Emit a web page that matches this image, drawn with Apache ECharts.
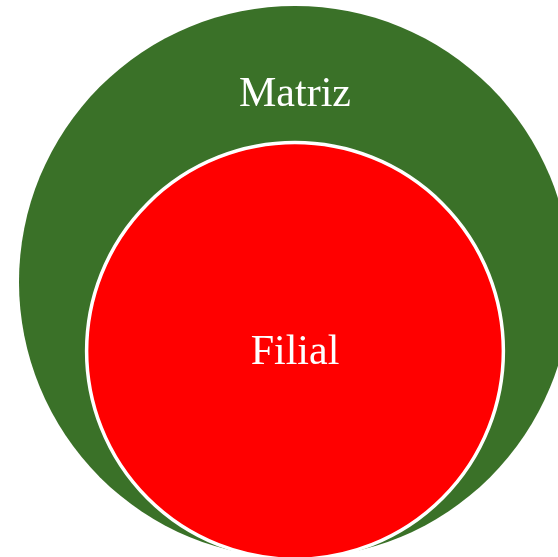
<!DOCTYPE html>
<html>
<head>
<meta charset="utf-8">
<script src="https://cdn.jsdelivr.net/npm/echarts@6/dist/echarts.min.js"></script>
<style>html,body{margin:0;padding:0;background:#fff;}#c{width:558px;height:557px;}</style>
</head>
<body>
<div id="c"></div>
<script>
// Euler diagram: sets, centres and radii in relative units (Matriz radius = 1)
var setNames = ['Matriz', 'Filial'];
var centerX = [0, 0];
var centerY = [0, -0.25];
var radii = [1, 0.755];
var labelX = [0, 0];
var labelY = [0.678, -0.257];
var fillColors = ['#3a7128', '#ff0000'];

var chart = echarts.init(document.getElementById('c'), null, {renderer: 'canvas'});
var data = setNames.map(function (n, i) {
  return {name: n, value: [centerX[i], centerY[i], radii[i], labelX[i], labelY[i], i]};
});
chart.setOption({
  animation: false,
  backgroundColor: '#ffffff',
  grid: {left: 0, top: 0, right: 0, bottom: 0, containLabel: false},
  xAxis: {type: 'value', min: -1.0688, max: 0.9529, show: false},
  yAxis: {type: 'value', min: -0.9964, max: 1.0217, show: false},
  series: [{
    type: 'custom',
    clip: false,
    data: data,
    renderItem: function (params, api) {
      var i = api.value(5);
      var c = api.coord([api.value(0), api.value(1)]);
      var r = api.size([api.value(2), api.value(2)])[0];
      var lp = api.coord([api.value(3), api.value(4)]);
      return {
        type: 'group',
        children: [{
          type: 'circle',
          shape: {cx: c[0], cy: c[1], r: r},
          style: {fill: fillColors[i], stroke: i === 0 ? null : '#ffffff', lineWidth: i === 0 ? 0 : 3.5}
        }, {
          type: 'text',
          x: lp[0], y: lp[1],
          style: {
            text: setNames[i],
            fill: '#ffffff',
            font: '42px "Liberation Serif", "Times New Roman", serif',
            align: 'center',
            verticalAlign: 'middle'
          }
        }]
      };
    }
  }]
});
</script>
</body>
</html>
